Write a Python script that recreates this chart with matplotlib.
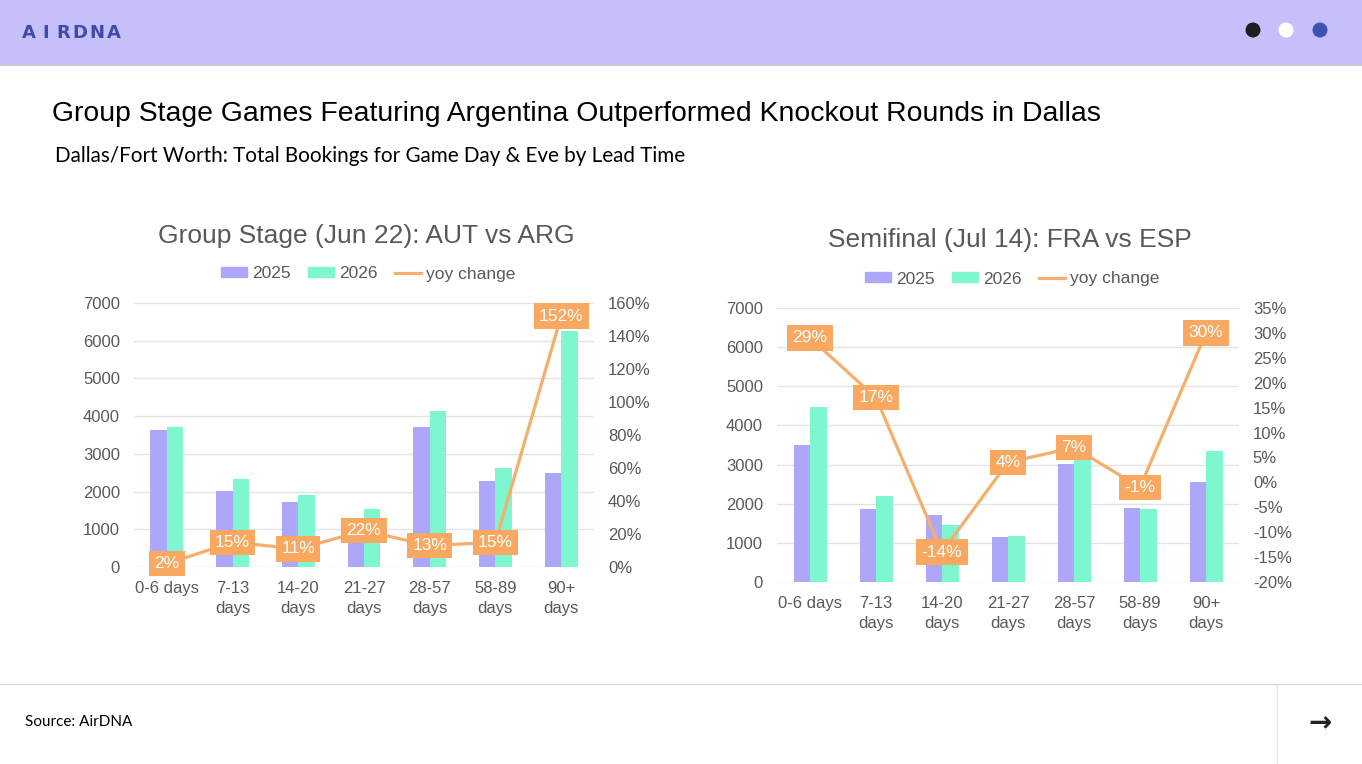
import matplotlib
matplotlib.use("Agg")
import matplotlib.pyplot as plt
from matplotlib.patches import Rectangle, Circle, Patch
from matplotlib.lines import Line2D
from matplotlib.ticker import FuncFormatter

plt.rcParams['font.family'] = ['Liberation Sans', 'DejaVu Sans']

# data
categories = ['0-6 days', '7-13\ndays', '14-20\ndays', '21-27\ndays',
              '28-57\ndays', '58-89\ndays', '90+\ndays']

group_2025 = [3630, 2010, 1720, 1260, 3700, 2280, 2490]
group_2026 = [3710, 2330, 1900, 1540, 4140, 2620, 6270]
group_yoy = [0.02, 0.15, 0.11, 0.22, 0.13, 0.15, 1.52]

semi_2025 = [3490, 1870, 1710, 1150, 3010, 1900, 2560]
semi_2026 = [4480, 2200, 1460, 1180, 3220, 1870, 3350]
semi_yoy = [0.29, 0.17, -0.14, 0.04, 0.07, -0.01, 0.30]

c2025 = '#ADA6F9'
c2026 = '#7EF6CF'
cline = '#F6AE6C'
cbox = '#F9A862'
grey = '#595959'

W, H = 1362, 764
fig = plt.figure(figsize=(W / 100, H / 100), dpi=100)

# background layer in pixel coordinates
bg = fig.add_axes([0, 0, 1, 1])
bg.set_xlim(0, W)
bg.set_ylim(H, 0)
bg.axis('off')

bg.add_patch(Rectangle((0, 0), W, 64, color='#C6C0FA', lw=0))
bg.plot([0, W], [64.5, 64.5], color='#BDBDD8', lw=1.2)
logo = "AIRDNA"
for k, ch in enumerate(logo):
    bg.text(29 + k * 17, 33, ch, fontsize=13, fontweight='bold', color='#3F4BA8',
            va='center', ha='center', family='DejaVu Sans')
for cx, col in [(1253, '#1E1E1E'), (1286, 'white'), (1320, '#3F51B5')]:
    bg.add_patch(Circle((cx, 30), 7.5, color=col, lw=0))

bg.text(52, 114, "Group Stage Games Featuring Argentina Outperformed Knockout Rounds in Dallas",
        fontsize=20.4, color='black', va='center', ha='left')
bg.text(55, 156, "Dallas/Fort Worth: Total Bookings for Game Day & Eve by Lead Time",
        fontsize=14.9, color='black', va='center', ha='left', family='Lato')

bg.plot([0, W], [684, 684], color='#D9D9D9', lw=1)
bg.plot([1277, 1277], [684, H], color='#E6E6E6', lw=1)
bg.text(25, 722, "Source: AirDNA", fontsize=11, family='Lato', va='center', ha='left')
bg.text(1320, 723, "\u2192", fontsize=20, fontweight='bold', color='#222222',
        va='center', ha='center', family='DejaVu Sans')


def draw_chart(px_left, px_right, px_top, px_bottom, title, title_y, legend_y,
               v25, v26, yoy, ylim2, yticks2):
    ax = fig.add_axes([px_left / W, 1 - px_bottom / H,
                       (px_right - px_left) / W, (px_bottom - px_top) / H])
    x = list(range(len(categories)))
    bw = 0.25
    ax.bar([i - bw / 2 for i in x], v25, width=bw, color=c2025, zorder=2)
    ax.bar([i + bw / 2 for i in x], v26, width=bw, color=c2026, zorder=2)
    ax.set_xlim(-0.5, len(categories) - 0.5)
    ax.set_ylim(0, 7000)
    ax.set_yticks(range(0, 7001, 1000))
    ax.grid(axis='y', color='#E3E3E3', lw=1, zorder=0)
    ax.set_xticks(x)
    ax.set_xticklabels(categories, linespacing=1.4)
    ax.tick_params(axis='both', length=0, labelsize=12, labelcolor=grey)
    ax.tick_params(axis='x', pad=10)
    ax.tick_params(axis='y', pad=10)
    for s in ax.spines.values():
        s.set_visible(False)

    ax2 = ax.twinx()
    ax2.plot(x, yoy, color=cline, lw=2.3, zorder=3)
    for i, v in zip(x, yoy):
        ax2.text(i, v, f"{v:.0%}", ha='center', va='center', color='white', fontsize=12.5,
                 bbox=dict(boxstyle='square,pad=0.3', fc=cbox, ec='none'), zorder=5)
    ax2.set_ylim(*ylim2)
    ax2.set_yticks(yticks2)
    ax2.yaxis.set_major_formatter(FuncFormatter(lambda v, p: f"{v:.0%}"))
    ax2.tick_params(axis='y', length=0, labelsize=12, labelcolor=grey, pad=10)
    for s in ax2.spines.values():
        s.set_visible(False)

    cx = (px_left + px_right) / 2
    bg.text(cx + 2, title_y, title, ha='center', va='center', fontsize=19, color=grey)
    handles = [Patch(color=c2025, label='2025'), Patch(color=c2026, label='2026'),
               Line2D([], [], color=cline, lw=2.3, label='yoy change')]
    ax.legend(handles=handles, loc='center', ncol=3, frameon=False, fontsize=12.5,
              labelcolor=grey, handlelength=1.5, handleheight=0.5, handletextpad=0.3,
              columnspacing=1.0, bbox_to_anchor=((cx + 4) / W, 1 - legend_y / H),
              bbox_transform=fig.transFigure)


draw_chart(134, 594, 303, 567, "Group Stage (Jun 22): AUT vs ARG", 236, 274,
           group_2025, group_2026, group_yoy, (0, 1.6),
           [0, 0.2, 0.4, 0.6, 0.8, 1.0, 1.2, 1.4, 1.6])
draw_chart(777, 1239, 308, 582, "Semifinal (Jul 14): FRA vs ESP", 240, 279,
           semi_2025, semi_2026, semi_yoy, (-0.2, 0.35),
           [-0.2, -0.15, -0.1, -0.05, 0, 0.05, 0.1, 0.15, 0.2, 0.25, 0.3, 0.35])

fig.savefig("out.png", dpi=100)
